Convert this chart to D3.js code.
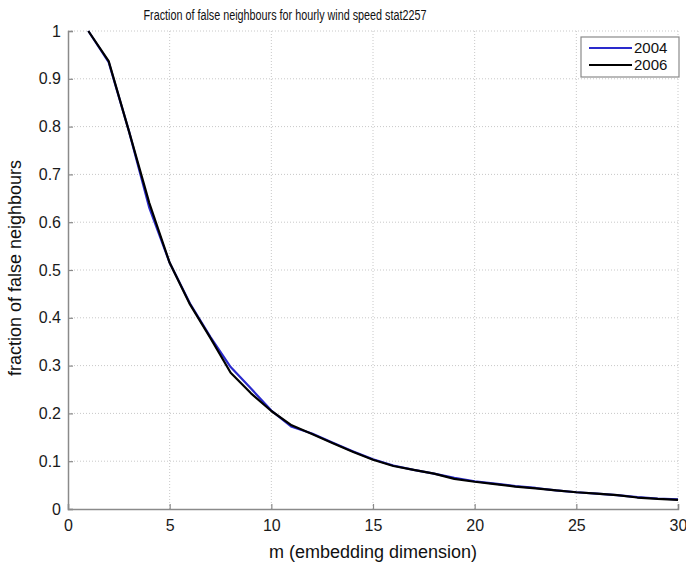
<!DOCTYPE html>
<html>
<head>
<meta charset="utf-8">
<script src="https://cdn.jsdelivr.net/npm/d3@7"></script>
<style>
  body { margin: 0; background: #fff; }
  svg { display: block; font-family: "Liberation Sans", Arial, sans-serif; }
</style>
</head>
<body>
<div id="chart"></div>
<script>
// embedding dimension m
const dims = d3.range(1, 31)
const frac2004 = [1.0, 0.935, 0.79, 0.63, 0.515, 0.43, 0.36, 0.297, 0.252, 0.206,
  0.172, 0.158, 0.139, 0.121, 0.104, 0.091, 0.082, 0.074, 0.065, 0.058,
  0.053, 0.048, 0.044, 0.039, 0.035, 0.032, 0.029, 0.025, 0.022, 0.020]
const frac2006 = [1.0, 0.937, 0.79, 0.64, 0.515, 0.428, 0.358, 0.285, 0.242, 0.205,
  0.175, 0.157, 0.138, 0.120, 0.103, 0.090, 0.082, 0.074, 0.063, 0.057,
  0.052, 0.047, 0.043, 0.039, 0.035, 0.032, 0.029, 0.024, 0.021, 0.019]
const xTicks = [0, 5, 10, 15, 20, 25, 30]
const yTicks = [0, 0.1, 0.2, 0.3, 0.4, 0.5, 0.6, 0.7, 0.8, 0.9, 1]
const seriesNames = ["2004", "2006"]
const seriesColors = ["#2a2acc", "#000000"]

const width = 686, height = 565
const margin = { left: 68, right: 8, top: 31, bottom: 56 }
const iw = width - margin.left - margin.right
const ih = height - margin.top - margin.bottom

const svg = d3.select("#chart").append("svg")
  .attr("width", width).attr("height", height)

const x = d3.scaleLinear().domain([0, 30]).range([margin.left, margin.left + iw])
const y = d3.scaleLinear().domain([0, 1]).range([margin.top + ih, margin.top])

// dotted grid
const grid = svg.append("g").attr("stroke", "#c8c8c8").attr("stroke-dasharray", "1,2")
grid.selectAll(".gx").data(xTicks.slice(1)).enter().append("line")
  .attr("x1", d => x(d)).attr("x2", d => x(d))
  .attr("y1", y(0)).attr("y2", y(1))
grid.selectAll(".gy").data(yTicks.slice(1)).enter().append("line")
  .attr("x1", x(0)).attr("x2", x(30))
  .attr("y1", d => y(d)).attr("y2", d => y(d))

// axes, ticks pointing inwards
const xAxis = d3.axisBottom(x).tickValues(xTicks).tickSize(-5).tickPadding(8)
  .tickFormat(d3.format("d"))
const yAxis = d3.axisLeft(y).tickValues(yTicks).tickSize(-5).tickPadding(7)
  .tickFormat(d => d === 0 || d === 1 ? String(d) : d3.format(".1f")(d))

const gx = svg.append("g").attr("transform", "translate(0," + y(0) + ")").call(xAxis)
const gy = svg.append("g").attr("transform", "translate(" + x(0) + ",0)").call(yAxis)
;[gx, gy].forEach(g => {
  g.select(".domain").attr("stroke", "#8a8a8a").attr("stroke-width", 1.5)
  g.selectAll(".tick line").attr("stroke", "#8a8a8a").attr("stroke-width", 1.2)
  g.selectAll(".tick text").attr("fill", "#1a1a1a").style("font-size", "16px")
    .style("font-family", "'Liberation Sans', Arial, sans-serif")
})
gx.selectAll(".tick text").attr("dy", "0.9em")

// lines
const line = d3.line().x((d, i) => x(dims[i])).y(d => y(d))
;[frac2004, frac2006].forEach((s, k) => {
  svg.append("path").datum(s)
    .attr("fill", "none")
    .attr("stroke", seriesColors[k])
    .attr("stroke-width", 2.2)
    .attr("stroke-linejoin", "round")
    .attr("d", line)
})

// title and labels
svg.append("text")
  .attr("x", 285).attr("y", 20)
  .attr("text-anchor", "middle")
  .attr("textLength", 283).attr("lengthAdjust", "spacingAndGlyphs")
  .style("font-size", "14px").attr("fill", "#111")
  .text("Fraction of false neighbours for hourly wind speed stat2257")

svg.append("text")
  .attr("x", 373).attr("y", 558)
  .attr("text-anchor", "middle")
  .style("font-size", "18px").attr("fill", "#111")
  .text("m (embedding dimension)")

svg.append("text")
  .attr("transform", "translate(21,268) rotate(-90)")
  .attr("text-anchor", "middle")
  .style("font-size", "18px").attr("fill", "#111")
  .text("fraction of false neighbours")

// legend
const lg = svg.append("g").attr("transform", "translate(581,37)")
lg.append("rect").attr("width", 98).attr("height", 40)
  .attr("fill", "#fff").attr("stroke", "#8a8a8a").attr("stroke-width", 1.2)
seriesNames.forEach((name, i) => {
  const yy = 11 + i * 17
  lg.append("line").attr("x1", 8).attr("x2", 51).attr("y1", yy).attr("y2", yy)
    .attr("stroke", seriesColors[i]).attr("stroke-width", 2)
  lg.append("text").attr("x", 53).attr("y", yy + 5)
    .style("font-size", "15px").attr("fill", "#111").text(name)
})
</script>
</body>
</html>
